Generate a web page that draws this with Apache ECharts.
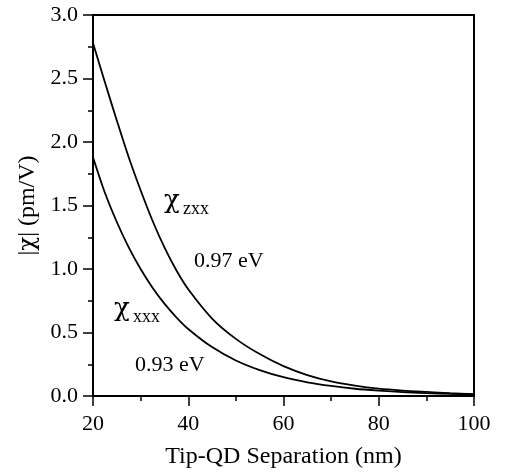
<!DOCTYPE html>
<html>
<head>
<meta charset="utf-8">
<script src="https://cdn.jsdelivr.net/npm/echarts@6/dist/echarts.min.js"></script>
<style>
html,body{margin:0;padding:0;background:#fff;}
#c{width:505px;height:476px;}
</style>
</head>
<body>
<div id="c"></div>
<script>
// Tip-QD separation (nm)
const separation = [20, 22.5, 25, 27.5, 30, 32.5, 35, 37.5, 40, 45, 50, 55, 60, 65, 70, 75, 80, 85, 90, 95, 100];
// |chi_zxx| (pm/V) at 0.97 eV
const chiZxx = [2.78, 2.47, 2.17, 1.88, 1.62, 1.38, 1.17, 0.99, 0.84, 0.61, 0.45, 0.33, 0.235, 0.165, 0.115, 0.082, 0.058, 0.043, 0.032, 0.022, 0.015];
// |chi_xxx| (pm/V) at 0.93 eV
const chiXxx = [1.88, 1.60, 1.37, 1.17, 1.0, 0.853, 0.727, 0.62, 0.528, 0.385, 0.28, 0.204, 0.148, 0.108, 0.079, 0.057, 0.042, 0.030, 0.022, 0.016, 0.011];
const xTicks = [20, 40, 60, 80, 100];
const yTicks = [0, 0.5, 1.0, 1.5, 2.0, 2.5, 3.0];

const font = 'Liberation Serif';
const chiFont = 'DejaVu Serif';
const chart = echarts.init(document.getElementById('c'), null, {renderer: 'canvas'});
const zip = (xs, ys) => xs.map((x, i) => [x, ys[i]]);

const axisCommon = {
  axisLine: {show: true, lineStyle: {color: '#000', width: 2}},
  axisTick: {show: true, inside: false, length: 10, lineStyle: {color: '#000', width: 1.5}},
  minorTick: {show: true, splitNumber: 2, length: 5, lineStyle: {color: '#000', width: 1.5}},
  splitLine: {show: false},
  minorSplitLine: {show: false},
  axisLabel: {color: '#000', fontFamily: font, fontSize: 22},
  nameTextStyle: {color: '#000', fontFamily: font, fontSize: 24}
};

chart.setOption({
  animation: false,
  backgroundColor: '#fff',
  grid: {left: 93, top: 15, right: 31, bottom: 80, show: true, borderColor: '#000', borderWidth: 2, backgroundColor: 'transparent'},
  xAxis: Object.assign({}, axisCommon, {
    type: 'value', min: xTicks[0], max: xTicks[xTicks.length - 1], interval: 20,
    name: 'Tip-QD Separation (nm)', nameLocation: 'middle', nameGap: 49,
    axisLabel: Object.assign({}, axisCommon.axisLabel, {margin: 17})
  }),
  yAxis: Object.assign({}, axisCommon, {
    type: 'value', min: yTicks[0], max: yTicks[yTicks.length - 1], interval: 0.5,
    name: '|{c|χ}| (pm/V)', nameLocation: 'middle', nameGap: 50, nameRotate: 90,
    nameTextStyle: {color: '#000', fontFamily: font, fontSize: 24,
      rich: {c: {fontFamily: chiFont, fontSize: 23, color: '#000'}}},
    axisLabel: Object.assign({}, axisCommon.axisLabel, {margin: 15, formatter: v => v.toFixed(1)})
  }),
  series: [
    {type: 'line', data: zip(separation, chiZxx), smooth: 0.3, showSymbol: false, lineStyle: {color: '#000', width: 1.8}},
    {type: 'line', data: zip(separation, chiXxx), smooth: 0.3, showSymbol: false, lineStyle: {color: '#000', width: 1.8}}
  ],
  graphic: [
    {type: 'text', left: 164, top: 188, style: {text: 'χ', font: '26px "DejaVu Serif"', fill: '#000'}},
    {type: 'text', left: 183, top: 200, style: {text: 'zxx', font: '18px "Liberation Serif"', fill: '#000'}},
    {type: 'text', left: 194, top: 250, style: {text: '0.97 eV', font: '22px "Liberation Serif"', fill: '#000'}},
    {type: 'text', left: 114, top: 296, style: {text: 'χ', font: '26px "DejaVu Serif"', fill: '#000'}},
    {type: 'text', left: 133, top: 308, style: {text: 'xxx', font: '18px "Liberation Serif"', fill: '#000'}},
    {type: 'text', left: 135, top: 354, style: {text: '0.93 eV', font: '22px "Liberation Serif"', fill: '#000'}}
  ]
});
</script>
</body>
</html>
